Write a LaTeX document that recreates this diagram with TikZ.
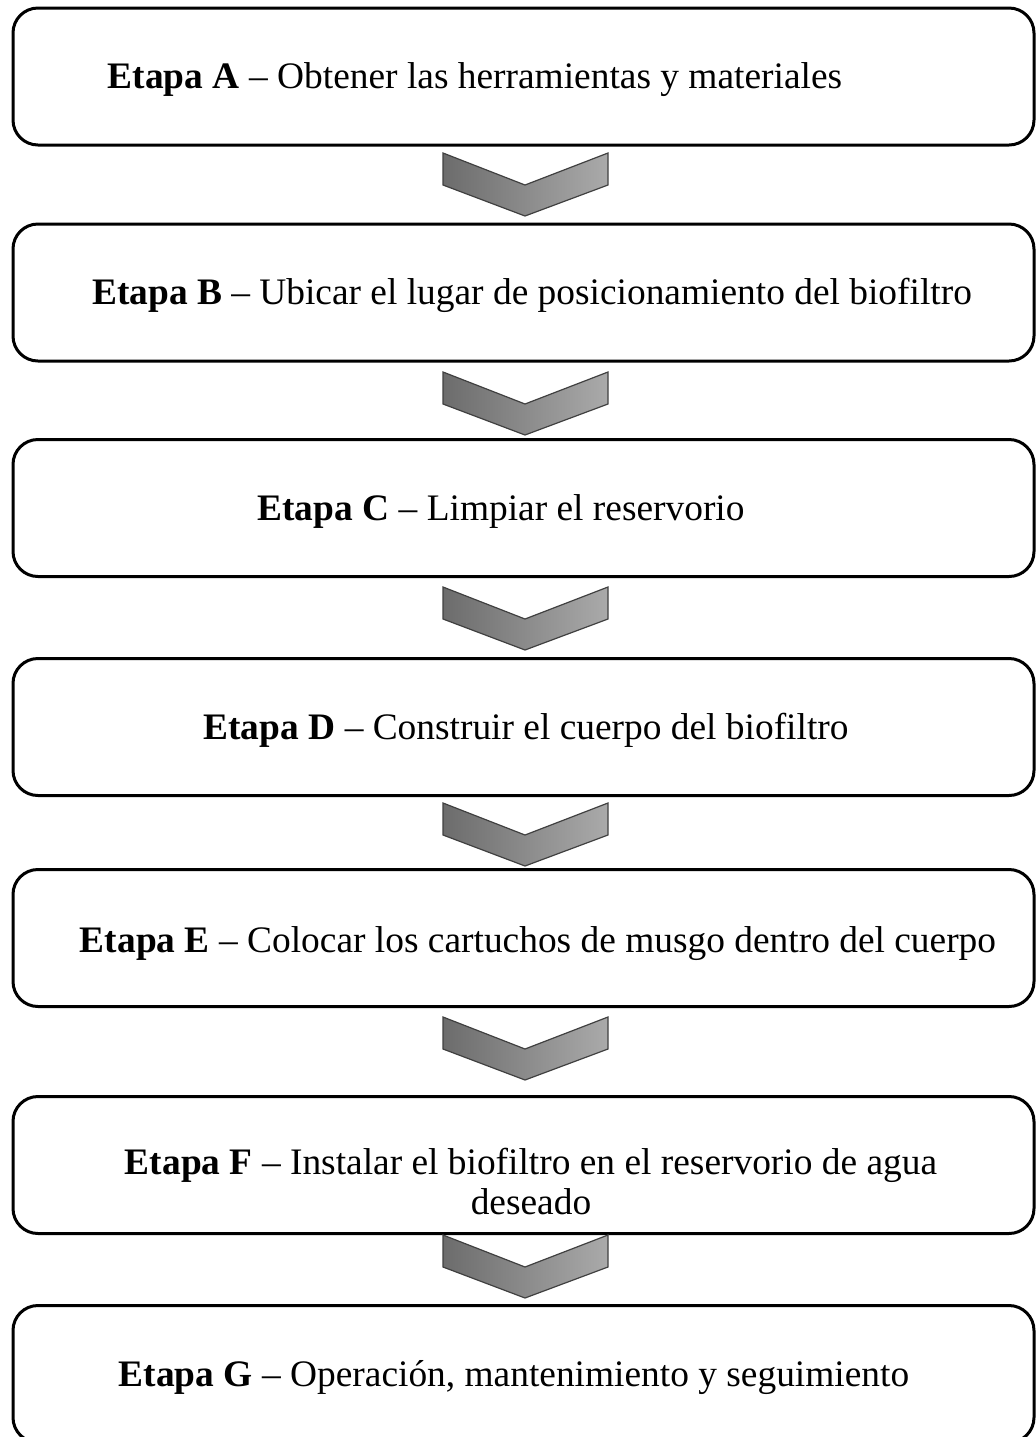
\documentclass[tikz,border=0pt]{standalone}
\usepackage{fontspec}
\setmainfont{Liberation Serif}
\usepackage{tikz}
\usetikzlibrary{shapes,calc}
\definecolor{chevdark}{RGB}{108,108,108}
\definecolor{chevlight}{RGB}{170,170,170}
\newcommand{\stagefont}{\fontsize{18.7}{20}\selectfont}
\newcommand{\chevronat}[1]{%
    \draw[chevstyle] (443,#1) -- (525,#1+32) -- (608,#1) -- (608,#1+32)
        -- (525,#1+63) -- (443,#1+32) -- cycle;}

\begin{document}
\begin{tikzpicture}[x=0.5pt, y=-0.5pt,
        stagebox/.style = {draw, line width=1.5pt, rounded corners=12.5pt,
            minimum width=510.5pt, minimum height=68.5pt, inner sep=0pt},
        stagetext/.style = {anchor=base, inner sep=0pt, font=\stagefont, align=center},
        chevstyle/.style = {left color=chevdark, right color=chevlight,
            draw=black!75, line width=0.6pt, line join=miter}]
    %\draw[help lines] (0,0) grid (1035,1437);
    \useasboundingbox (0,0) rectangle (1035,1437);
    % boxes
    \node[stagebox] (boxA) at (523.5,76.5) {};
    \node[stagebox] (boxB) at (523.5,292.5) {};
    \node[stagebox] (boxC) at (523.5,508) {};
    \node[stagebox] (boxD) at (523.5,727) {};
    \node[stagebox] (boxE) at (523.5,938) {};
    \node[stagebox] (boxF) at (523.5,1165) {};
    \node[stagebox] (boxG) at (523.5,1374) {};
    % texts
    \node[stagetext] (txtA) at (475,88) {\textbf{Etapa A} -- Obtener las herramientas y materiales};
    \node[stagetext] (txtB) at (532,304) {\textbf{Etapa B} -- Ubicar el lugar de posicionamiento del biofiltro};
    \node[stagetext] (txtC) at (501,520) {\textbf{Etapa C} -- Limpiar el reservorio};
    \node[stagetext] (txtD) at (526,739) {\textbf{Etapa D} -- Construir el cuerpo del biofiltro};
    \node[stagetext] (txtE) at (538,952) {\textbf{Etapa E} -- Colocar los cartuchos de musgo dentro del cuerpo};
    \node[stagetext, anchor=north] (txtF) at (531,1148)
        {\textbf{Etapa F} -- Instalar el biofiltro en el reservorio de agua\\deseado};
    \node[stagetext] (txtG) at (514,1386) {\textbf{Etapa G} -- Operación, mantenimiento y seguimiento};
    % chevrons
    \chevronat{153}
    \chevronat{372}
    \chevronat{587}
    \chevronat{803}
    \chevronat{1017}
    \chevronat{1235}
\end{tikzpicture}
\end{document}
